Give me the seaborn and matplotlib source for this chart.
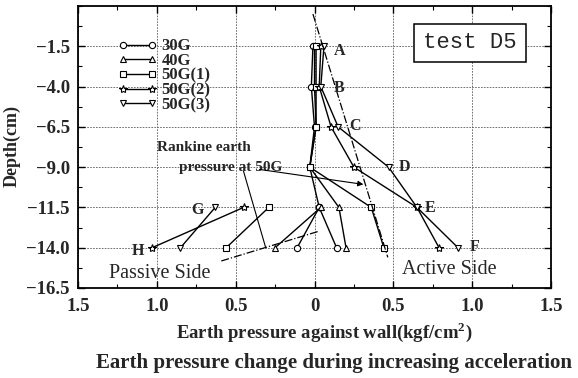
import matplotlib
matplotlib.use('Agg')
import numpy as np
import pandas as pd
import seaborn as sns
import matplotlib.pyplot as plt
from matplotlib.ticker import MultipleLocator

# depths of the gauges (cm)
depth = [-1.5, -4.0, -6.5, -9.0, -11.5, -14.0]
passive_depth = [-11.5, -14.0]

# active side earth pressure (kgf/cm2)
active_30g = [-0.01, -0.02, 0.0, -0.03, 0.03, 0.14]
active_40g = [0.0, 0.0, 0.01, -0.03, 0.155, 0.2]
active_50g1 = [0.01, 0.01, 0.01, -0.03, 0.36, 0.44]
active_50g2 = [0.04, 0.03, 0.105, 0.25, 0.65, 0.79]
active_50g3 = [0.06, 0.04, 0.15, 0.47, 0.65, 0.91]

# passive side (drawn to the left, so negative)
passive_30g = [0.03, -0.11]
passive_40g = [0.04, -0.25]
passive_50g1 = [-0.29, -0.56]
passive_50g2 = [-0.45, -1.03]
passive_50g3 = [-0.63, -0.85]

# rankine earth pressure at 50G
rankine_active_x = [-0.01, 0.465]
rankine_active_y = [0.5, -14.6]
rankine_passive_x = [0.02, -0.60]
rankine_passive_y = [-13.0, -14.85]

names = ['30G', '40G', '50G(1)', '50G(2)', '50G(3)']
markers = ['o', '^', 's', '*', 'v']
actives = [active_30g, active_40g, active_50g1, active_50g2, active_50g3]
passives = [passive_30g, passive_40g, passive_50g1, passive_50g2, passive_50g3]

sns.set_style('ticks')
plt.rcParams['font.family'] = ['Liberation Serif', 'DejaVu Serif']
plt.rcParams['mathtext.fontset'] = 'custom'
plt.rcParams['mathtext.rm'] = 'Liberation Serif'
plt.rcParams['mathtext.bf'] = 'Liberation Serif:bold'

fig = plt.figure(figsize=(5.78, 3.78), dpi=100)
ax = fig.add_axes([78/578, 1-288/378, 473/578, 282/378])

for name, m, a, p in zip(names, markers, actives, passives):
    ms = 6 if m == '*' else 4.5
    sns.lineplot(x=a, y=depth, sort=False, estimator=None, color='k', lw=1,
                 marker=m, markersize=ms, markerfacecolor='white',
                 markeredgecolor='k', markeredgewidth=0.8, label=name, ax=ax)
    sns.lineplot(x=p, y=passive_depth, sort=False, estimator=None, color='k', lw=1,
                 marker=m, markersize=ms, markerfacecolor='white',
                 markeredgecolor='k', markeredgewidth=0.8, label='_nolegend_', ax=ax)

ax.plot(rankine_active_x, rankine_active_y, color='k', ls='-.', lw=0.9)
ax.plot(rankine_passive_x, rankine_passive_y, color='k', ls='-.', lw=0.9)

ax.set_xlim(-1.5, 1.5)
ax.set_ylim(-16.5, 1.0)
ax.set_xticks([-1.5, -1.0, -0.5, 0, 0.5, 1.0, 1.5])
ax.set_xticklabels(['1.5', '1.0', '0.5', '0', '0.5', '1.0', '1.5'])
ax.set_yticks([-1.5, -4.0, -6.5, -9.0, -11.5, -14.0, -16.5])
ax.set_yticklabels(['\u22121.5', '\u22124.0', '\u22126.5', '\u22129.0',
                    '\u221211.5', '\u221214.0', '\u221216.5'])
ax.xaxis.set_minor_locator(MultipleLocator(0.25))
ax.yaxis.set_minor_locator(MultipleLocator(1.25, offset=-1.5))
ax.tick_params(which='both', direction='in', top=True, right=True, color='k')
ax.tick_params(which='major', length=5, width=1, labelsize=13.5)
ax.tick_params(which='minor', length=3, width=0.8)
ax.tick_params(axis='x', pad=7)
ax.tick_params(axis='y', pad=6)
for lab in ax.get_xticklabels() + ax.get_yticklabels():
    lab.set_fontweight('bold')
for s in ax.spines.values():
    s.set_color('k')
    s.set_linewidth(1.3)
ax.grid(True, which='major', color='0.35', ls=(0, (2, 1.5)), lw=0.6)

ax.set_xlabel('Earth pressure against wall(kgf/cm$^{\\mathbf{2}}$)', fontsize=13.5,
              fontweight='bold')
ax.xaxis.label.set_va('center')
ax.xaxis.set_label_coords(0.52, -0.156)
ax.set_ylabel('Depth(cm)', fontsize=13, fontweight='bold')
ax.yaxis.label.set_va('center')
ax.yaxis.set_label_coords(-0.14, 0.503)

fig.text(0.577, 1-363/378, 'Earth pressure change during increasing acceleration',
         ha='center', va='center', fontsize=15, fontweight='bold')

ax.legend(loc='upper left', bbox_to_anchor=(0.085, 0.885), frameon=False,
          numpoints=2, handlelength=2.3, handletextpad=0.3, labelspacing=-0.08,
          borderpad=0, borderaxespad=0,
          prop={'family': 'Liberation Serif', 'weight': 'bold', 'size': 12})

# gauge letters
letters = ['A', 'B', 'C', 'D', 'E', 'F', 'G', 'H']
letter_x = [0.156, 0.156, 0.258, 0.57, 0.735, 1.016, -0.742, -1.118]
letter_y = [-1.81, -4.1, -6.47, -9.0, -11.56, -13.98, -11.69, -14.23]
for t, lx, ly in zip(letters, letter_x, letter_y):
    ax.text(lx, ly, t, ha='center', va='center', fontsize=11.5, fontweight='bold')

ax.text(-1.0, -7.77, 'Rankine earth', ha='left', va='center', fontsize=11,
        fontweight='bold')
ax.text(-0.86, -9.0, 'pressure at 50G', ha='left', va='center', fontsize=11,
        fontweight='bold')
ax.plot([-0.45, -0.31], [-9.26, -13.98], color='k', lw=0.8)
ax.annotate('', xy=(0.31, -10.07), xytext=(-0.35, -9.14),
            arrowprops=dict(arrowstyle='-|>', lw=0.8, color='k',
                            mutation_scale=8, shrinkA=0, shrinkB=0))

ax.text(0.173, 0.05, 'Passive Side', transform=ax.transAxes, ha='center',
        va='center', fontsize=14.5)
ax.text(0.786, 0.064, 'Active Side', transform=ax.transAxes, ha='center',
        va='center', fontsize=14.5)
ax.text(0.829, 0.869, 'test D5', transform=ax.transAxes, ha='center',
        va='center', fontsize=16, family='Liberation Mono',
        bbox=dict(boxstyle='square,pad=0.4', fc='white', ec='k', lw=1.1))

fig.savefig('out.png', dpi=100)
